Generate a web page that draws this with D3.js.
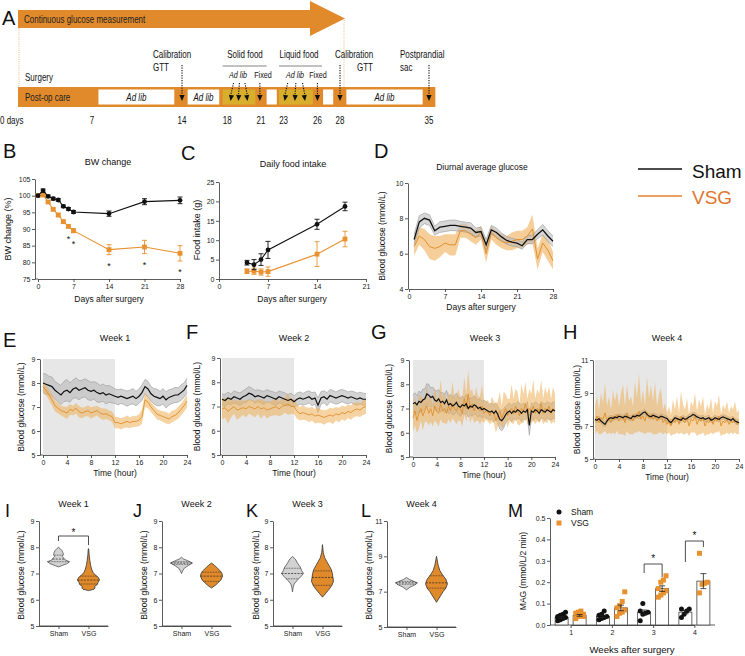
<!DOCTYPE html>
<html><head><meta charset="utf-8">
<script src="https://cdn.jsdelivr.net/npm/d3@7"></script>
<style>body{margin:0;background:#fff}svg{display:block}</style>
</head><body>
<svg id="c" width="745" height="656"></svg>
<script>
// ---------------- DATA ----------------
// Panel A timeline (days)
const tlTicks = [0,7,14,18,21,23,26,28,35];
const whiteBoxes = [[7.5,13.4],[14.5,17.3],[21.5,22.4],[26.5,27.4],[28.5,34.5]];
const goldBoxes = [[17.6,20.5],[22.6,25.6]];
const calibDays = [14,28,35];
const fixedDays = [20.9,26];
const adlibDays = [18.3,19.0,19.8,23.1,24.0,24.9];

// Panel B body weight
const bwDays = [0,1,2,3,4,5,6,7,14,21,28];
const shamBW = [100,101.5,99.8,99.1,98.7,96.8,96.0,95.1,94.6,98.2,98.6];
const shamBWse = [0,0.5,0.4,0.4,0.4,0.4,0.4,0.4,0.8,0.9,1.0];
const vsgBW = [100,100.2,98.1,95.9,94.2,92.2,90.8,89.5,83.8,84.6,82.7];
const vsgBWse = [0,0.4,0.4,0.4,0.5,0.5,0.5,0.6,1.5,2.0,2.3];
const bwStarDays = [6,7,14,21,28];

// Panel C food intake
const fiDays = [4,5,6,7,14,18];
const shamFI = [4.2,3.7,5.0,7.5,14.1,18.7];
const shamFIse = [0.6,1.3,1.5,2.2,1.3,1.1];
const vsgFI = [2.0,2.0,1.8,1.9,6.4,10.3];
const vsgFIse = [0.6,0.8,0.8,1.2,3.2,2.0];

// Panel D diurnal average glucose, days 1..28
const shamD = [6.8,7.8,8.0,7.9,7.3,7.5,7.55,7.6,7.6,7.55,7.5,7.45,7.2,7.25,6.5,7.35,7.2,6.95,6.75,6.65,6.6,6.45,6.8,6.8,7.1,7.35,7.0,6.7];
const shamDse = [0.3,0.35,0.3,0.3,0.25,0.3,0.3,0.3,0.3,0.28,0.28,0.3,0.25,0.25,0.3,0.25,0.25,0.22,0.22,0.22,0.2,0.2,0.22,0.25,0.25,0.3,0.3,0.3];
const vsgD = [6.4,7.0,6.8,6.4,6.3,6.4,6.6,6.5,6.5,7.3,7.3,7.1,6.9,7.2,6.0,7.2,6.9,6.7,6.6,6.7,6.8,6.8,7.0,7.4,5.7,6.6,6.2,5.6];
const vsgDse = [0.5,0.5,0.6,0.7,0.7,0.6,0.5,0.6,0.6,0.4,0.4,0.4,0.4,0.4,0.5,0.4,0.4,0.4,0.4,0.5,0.5,0.5,0.5,0.8,0.6,0.5,0.6,0.5];

// Panels E-H: 24 h profiles (evenly spaced over 0-24 h)
const shamE = [8.0,7.95,7.9,7.85,7.7,7.6,7.5,7.65,7.7,7.6,7.75,7.8,7.7,7.75,7.8,7.7,7.65,7.7,7.6,7.55,7.6,7.5,7.55,7.5,7.45,7.4,7.45,7.4,7.35,7.4,7.45,7.35,7.45,7.6,7.85,7.75,7.55,7.45,7.4,7.35,7.45,7.3,7.4,7.45,7.5,7.5,7.6,7.7,7.9];
const shamEse = [0.4,0.42,0.38,0.4,0.36,0.38,0.4,0.42,0.45,0.4,0.38,0.42,0.4,0.36,0.38,0.4,0.38,0.36,0.4,0.35,0.36,0.38,0.35,0.33,0.3,0.32,0.3,0.3,0.32,0.3,0.32,0.3,0.3,0.32,0.3,0.32,0.3,0.32,0.35,0.3,0.32,0.34,0.32,0.3,0.32,0.3,0.32,0.3,0.3];
const vsgE = [7.85,7.7,7.5,7.3,7.05,6.95,6.85,6.8,6.75,6.9,6.85,6.95,6.8,6.75,6.8,6.85,6.75,6.8,6.85,6.75,6.7,6.72,6.65,6.6,6.35,6.35,6.3,6.35,6.4,6.35,6.4,6.4,6.45,6.6,7.3,7.2,7.0,6.85,6.7,6.65,6.6,6.55,6.5,6.6,6.65,6.75,6.9,7.05,7.25];
const vsgEse = [0.22,0.2,0.22,0.25,0.24,0.22,0.2,0.22,0.25,0.22,0.2,0.22,0.24,0.22,0.2,0.22,0.24,0.22,0.2,0.22,0.24,0.22,0.2,0.22,0.25,0.22,0.24,0.22,0.25,0.22,0.24,0.22,0.25,0.3,0.3,0.25,0.22,0.2,0.22,0.2,0.22,0.24,0.22,0.24,0.22,0.25,0.25,0.25,0.28];

const shamF = [7.3,7.25,7.35,7.3,7.4,7.35,7.3,7.4,7.45,7.55,7.5,7.4,7.45,7.4,7.35,7.45,7.4,7.35,7.3,7.4,7.35,7.3,7.25,7.3,7.2,7.3,7.35,7.3,7.35,7.4,7.3,7.35,7.05,7.35,7.4,7.3,7.45,7.4,7.35,7.4,7.45,7.4,7.35,7.4,7.35,7.3,7.35,7.3,7.3];
const shamFse = [0.22,0.25,0.24,0.22,0.25,0.24,0.26,0.25,0.28,0.27,0.25,0.26,0.24,0.25,0.27,0.25,0.24,0.26,0.25,0.24,0.25,0.26,0.24,0.25,0.24,0.26,0.25,0.24,0.26,0.25,0.27,0.25,0.3,0.26,0.25,0.27,0.25,0.26,0.25,0.27,0.25,0.26,0.25,0.24,0.26,0.25,0.24,0.25,0.24];
const vsgF = [6.9,6.95,6.8,6.9,7.0,6.85,6.9,6.95,6.9,7.0,6.95,6.9,7.0,6.9,6.95,6.85,6.9,6.95,7.0,6.9,7.0,7.05,7.1,7.0,7.0,6.8,6.7,6.75,6.7,6.65,6.7,6.6,6.65,6.6,6.55,6.6,6.65,6.6,6.7,6.65,6.75,6.7,6.8,6.75,6.85,6.9,6.85,6.95,7.0];
const vsgFse = [0.45,0.4,0.5,0.35,0.3,0.4,0.35,0.3,0.35,0.3,0.32,0.35,0.3,0.4,0.3,0.35,0.3,0.32,0.35,0.3,0.35,0.3,0.45,0.3,0.32,0.3,0.28,0.3,0.27,0.3,0.28,0.3,0.32,0.28,0.3,0.27,0.3,0.32,0.28,0.3,0.28,0.3,0.27,0.3,0.28,0.3,0.28,0.3,0.3];

const shamG = [7.2,7.25,7.15,7.3,7.25,7.35,7.4,7.6,7.55,7.45,7.5,7.35,7.3,7.4,7.25,7.3,7.2,7.35,7.15,7.2,7.1,7.15,7.25,7.1,7.05,7.15,7.1,7.2,7.0,7.1,7.05,7.15,7.1,7.0,7.05,6.95,7.0,6.95,6.9,6.85,6.9,6.8,6.9,6.75,6.55,6.5,6.6,6.75,6.85,6.9,6.8,6.9,6.85,6.95,6.9,6.8,6.9,6.85,6.95,6.3,6.9,6.85,6.95,6.9,6.8,6.95,6.9,6.85,6.95,6.9,6.85,6.95,6.9];
const shamGse = [0.35,0.4,0.38,0.42,0.4,0.45,0.4,0.42,0.45,0.4,0.38,0.4,0.42,0.38,0.4,0.36,0.38,0.4,0.35,0.38,0.36,0.4,0.38,0.35,0.38,0.36,0.35,0.38,0.35,0.36,0.35,0.38,0.35,0.36,0.34,0.35,0.33,0.35,0.32,0.34,0.32,0.35,0.33,0.35,0.4,0.42,0.4,0.35,0.33,0.32,0.34,0.32,0.33,0.35,0.32,0.34,0.33,0.32,0.34,0.4,0.32,0.34,0.33,0.32,0.34,0.33,0.32,0.34,0.33,0.35,0.33,0.34,0.33];
const vsgG = [6.6,6.9,6.5,6.8,7.0,6.7,6.9,7.1,6.8,7.0,6.7,7.1,6.9,6.8,7.2,6.9,7.0,6.8,7.1,6.9,7.2,7.0,6.9,7.1,7.0,6.8,7.4,7.0,7.6,7.0,7.2,6.9,7.1,7.0,6.9,7.1,6.8,6.9,6.85,6.7,6.9,6.8,6.5,6.7,6.9,6.6,6.8,7.0,6.7,6.9,7.0,6.8,7.1,6.9,6.7,7.0,6.9,7.2,6.8,7.0,6.9,7.1,6.8,7.0,6.9,7.2,6.8,7.0,6.9,7.1,6.8,7.0,6.9];
const vsgGseHi = [0.4,0.6,0.5,0.8,0.5,0.7,0.4,0.9,0.5,0.6,0.4,0.8,0.5,0.6,1.0,0.5,0.7,0.4,0.6,0.5,0.9,0.5,0.6,0.7,0.5,0.6,0.9,0.6,1.0,0.7,0.6,0.5,0.8,0.5,0.6,0.9,0.5,0.4,0.5,0.4,0.6,0.5,0.7,0.6,0.8,0.5,0.9,0.6,0.7,0.5,1.0,0.6,0.7,0.8,0.5,1.0,0.7,0.9,0.6,0.8,0.7,1.1,0.6,0.8,0.7,1.0,0.6,0.9,0.7,0.8,0.6,0.9,0.7];
const vsgGseLo = [0.55,0.6,0.5,0.65,0.5,0.6,0.45,0.65,0.5,0.55,0.45,0.6,0.5,0.55,0.65,0.5,0.6,0.45,0.55,0.5,0.6,0.5,0.55,0.6,0.5,0.55,0.65,0.55,0.7,0.6,0.55,0.5,0.6,0.5,0.55,0.6,0.4,0.35,0.4,0.35,0.45,0.4,0.5,0.45,0.55,0.4,0.55,0.45,0.5,0.4,0.6,0.45,0.5,0.55,0.4,0.6,0.5,0.55,0.45,0.5,0.5,0.6,0.45,0.5,0.5,0.6,0.45,0.55,0.5,0.5,0.45,0.55,0.5];

const shamH = [7.4,7.35,7.45,7.3,7.2,7.1,7.3,7.45,7.5,7.45,7.55,7.5,7.6,7.55,7.5,7.6,7.55,7.5,7.45,7.6,7.55,7.65,7.6,7.7,7.8,7.85,7.7,7.6,7.55,7.65,7.6,7.55,7.5,7.6,7.55,7.5,7.45,7.3,7.2,7.35,7.5,7.45,7.4,7.35,7.5,7.4,7.45,7.55,7.6,7.7,7.65,7.55,7.5,7.45,7.5,7.4,7.45,7.5,7.35,7.4,7.5,7.45,7.4,7.5,7.55,7.5,7.45,7.4,7.35,7.45,7.3,7.25,7.2];
const shamHse = [0.15,0.14,0.16,0.15,0.17,0.15,0.14,0.16,0.15,0.14,0.16,0.15,0.14,0.16,0.15,0.17,0.15,0.14,0.16,0.15,0.14,0.16,0.15,0.17,0.16,0.15,0.14,0.16,0.15,0.14,0.16,0.15,0.14,0.16,0.15,0.14,0.16,0.17,0.16,0.15,0.14,0.16,0.15,0.14,0.16,0.15,0.14,0.16,0.15,0.14,0.16,0.15,0.14,0.16,0.15,0.14,0.16,0.15,0.14,0.16,0.15,0.14,0.16,0.15,0.14,0.16,0.15,0.14,0.16,0.15,0.16,0.15,0.16];
const vsgH = [7.3,7.6,7.2,7.5,7.4,7.8,7.3,7.5,7.2,7.6,7.4,7.7,7.3,7.5,7.6,7.2,7.8,7.4,7.5,7.3,7.7,7.5,7.9,7.4,7.6,7.3,7.8,7.5,7.7,7.4,7.6,7.3,7.5,7.6,7.2,7.4,7.1,7.3,7.0,7.4,7.2,7.5,7.1,7.6,7.3,7.2,7.5,7.0,7.4,7.3,7.6,7.1,7.4,7.3,7.5,7.0,7.3,7.2,7.5,7.1,7.4,7.3,7.6,7.0,7.3,7.2,7.4,7.1,7.3,7.2,7.4,7.1,7.2];
const vsgHseHi = [0.9,1.2,0.8,1.5,1.0,1.8,0.9,1.3,0.8,1.6,1.1,1.4,0.9,1.5,1.9,1.0,1.7,1.1,1.3,0.9,2.0,1.2,2.3,1.0,1.6,0.9,2.2,1.2,1.8,1.1,2.1,0.9,1.4,1.7,0.8,1.0,0.7,0.9,0.7,1.2,0.8,1.3,0.7,1.5,1.0,0.8,1.2,0.7,1.1,0.9,1.4,0.8,1.2,0.9,1.3,0.7,1.0,0.8,1.2,0.7,1.1,0.9,1.3,0.7,1.0,0.8,1.1,0.7,0.9,0.8,1.1,0.7,0.8];
const vsgHseLo = [0.8,0.9,0.7,1.0,0.8,1.1,0.8,0.9,0.7,1.0,0.9,1.0,0.8,1.0,1.1,0.8,1.1,0.9,1.0,0.8,1.1,0.9,1.2,0.8,1.0,0.8,1.2,0.9,1.1,0.9,1.1,0.8,0.9,1.0,0.7,0.8,0.6,0.7,0.6,0.9,0.7,0.9,0.6,1.0,0.8,0.7,0.9,0.6,0.8,0.7,1.0,0.7,0.9,0.8,0.9,0.6,0.8,0.7,0.9,0.6,0.8,0.7,0.9,0.6,0.8,0.7,0.8,0.6,0.7,0.7,0.8,0.6,0.7];

// Panels I-L: violin densities [glucose, relative density] and quartiles
const violSham1 = [[7.25,0],[7.3,0.3],[7.38,0.8],[7.45,1.0],[7.52,0.6],[7.58,0.5],[7.65,0.35],[7.72,0.45],[7.8,0.4],[7.88,0.3],[7.95,0.15],[8.0,0]];
const violVsg1 = [[6.35,0],[6.4,0.5],[6.45,0.6],[6.5,0.55],[6.58,0.8],[6.65,0.85],[6.75,1.0],[6.85,0.9],[6.95,0.6],[7.05,0.4],[7.15,0.3],[7.3,0.2],[7.5,0.12],[7.7,0.06],[7.9,0.03],[7.95,0]];
const violSham2 = [[7.0,0],[7.1,0.1],[7.2,0.25],[7.3,0.6],[7.4,1.0],[7.5,0.5],[7.55,0.2],[7.62,0]];
const violVsg2 = [[6.45,0],[6.55,0.35],[6.65,0.6],[6.75,0.85],[6.9,1.0],[7.0,0.95],[7.1,0.8],[7.2,0.55],[7.3,0.3],[7.4,0]];
const violSham3 = [[6.3,0],[6.45,0.05],[6.6,0.15],[6.75,0.45],[6.9,0.8],[7.0,1.0],[7.1,0.85],[7.25,0.7],[7.4,0.45],[7.55,0.25],[7.65,0]];
const violVsg3 = [[6.1,0],[6.25,0.3],[6.4,0.6],[6.55,0.85],[6.7,1.0],[6.85,0.95],[7.0,0.9],[7.15,0.8],[7.3,0.6],[7.45,0.4],[7.6,0.2],[7.8,0.07],[8.1,0]];
const violSham4 = [[7.1,0],[7.25,0.3],[7.4,0.8],[7.5,1.0],[7.6,0.6],[7.7,0.25],[7.8,0]];
const violVsg4 = [[6.4,0],[6.7,0.3],[7.0,0.6],[7.2,0.85],[7.45,1.0],[7.7,0.85],[7.95,0.55],[8.2,0.3],[8.5,0.15],[9.0,0]];
const qSham = [[7.45,7.55,7.7],[7.35,7.4,7.45],[6.8,7.0,7.2],[7.42,7.5,7.58]];
const qVsg = [[6.6,6.75,6.9],[6.7,6.9,7.05],[6.55,6.85,7.1],[7.2,7.5,7.9]];

// Panel M MAG
const magWeeks = ["1","2","3","4"];
const magShamMean = [0.035,0.04,0.06,0.06];
const magShamSe = [0.005,0.005,0.01,0.008];
const magVsgMean = [0.045,0.08,0.17,0.205];
const magVsgSe = [0.004,0.013,0.013,0.035];
const magShamPts = [[0.02,0.025,0.03,0.035,0.04,0.045,0.05,0.06,0.035],[0.025,0.03,0.035,0.04,0.045,0.05,0.065],[0.02,0.05,0.055,0.06,0.065,0.1],[0.035,0.05,0.065,0.075,0.075]];
const magVsgPts = [[0.03,0.04,0.045,0.05,0.055,0.06,0.065,0.04],[0.04,0.055,0.06,0.07,0.08,0.09,0.11,0.155],[0.13,0.14,0.15,0.16,0.17,0.2,0.21,0.23],[0.15,0.19,0.195,0.2,0.335]];

// ---------------- DRAWING ----------------
const svg = d3.select("#c");
const FONT = '"Liberation Sans", Arial, Helvetica, sans-serif';
const ORANGE = "#E08A2B", GOLD = "#D8AE2C", VSGC = "#E8912E", AX = "#333";
const BANDO = "#EFAE55", BANDG = "#bcbcbc";

function txt(x,y,s,o={}){
  return svg.append("text").attr("x",x).attr("y",y).text(s)
    .attr("font-family",FONT).attr("font-size",o.fs||9)
    .attr("text-anchor",o.anchor||"start").attr("fill",o.fill||"#111")
    .attr("font-style",o.italic?"italic":null);
}
function ntxt(x,y,s,o={}){
  return svg.append("text").attr("transform",`translate(${x},${y}) scale(0.8,1)`).text(s)
    .attr("font-family",FONT).attr("font-size",o.fs||10)
    .attr("text-anchor",o.anchor||"start").attr("fill",o.fill||"#111")
    .attr("font-style",o.italic?"italic":null);
}
function vtxt(x,y,s,fs){
  return svg.append("text").attr("transform",`translate(${x},${y}) rotate(-90)`).text(s)
    .attr("font-family",FONT).attr("font-size",fs||8.5).attr("text-anchor","middle").attr("fill","#111");
}
function styleAxis(g,fs){
  g.attr("font-family",FONT);
  g.select(".domain").attr("stroke",AX).attr("stroke-width",0.8);
  g.selectAll(".tick line").attr("stroke",AX).attr("stroke-width",0.8);
  g.selectAll(".tick text").attr("font-size",fs||7).attr("fill","#222");
}
function yAxis(scale,x,ticks,fmt,fs){
  const a=d3.axisLeft(scale).tickValues(ticks).tickSize(3).tickSizeOuter(0).tickPadding(1.5)
    .tickFormat(fmt||d3.format("d"));
  const g=svg.append("g").attr("transform",`translate(${x},0)`).call(a); styleAxis(g,fs); return g;
}
function xAxis(scale,y,ticks,fmt,fs,startX){
  const a=d3.axisBottom(scale).tickValues(ticks).tickSize(3).tickSizeOuter(0).tickPadding(2);
  if(fmt) a.tickFormat(fmt);
  const g=svg.append("g").attr("transform",`translate(0,${y})`).call(a); styleAxis(g,fs);
  if(startX!==undefined){
    svg.append("line").attr("x1",startX).attr("x2",scale.range()[0]).attr("y1",y).attr("y2",y)
      .attr("stroke",AX).attr("stroke-width",0.8);
  }
  return g;
}
function letter(x,y,s,fs){ txt(x,y,s,{fs:fs||20,fill:"#111"}); }

// ===== Panel A =====
letter(2,25,"A",20);
const tl = d3.scaleLinear().domain([0,7,14,28,35]).range([18,92,182,340,429]);
svg.append("path").attr("d",`M${tl(0)},10 L310,10 L310,1 L345,18.5 L310,36 L310,28 L${tl(0)},28 Z`).attr("fill",ORANGE);
ntxt(24,23,"Continuous glucose measurement",{fs:10,fill:"#222"});
[[tl(0)+1,28],[344,20]].forEach(([x,y0])=>{
  svg.append("line").attr("x1",x).attr("x2",x).attr("y1",y0).attr("y2",87)
    .attr("stroke",ORANGE).attr("stroke-width",0.6).attr("stroke-dasharray","1,1.2");
});
svg.append("rect").attr("x",tl(0)).attr("y",87).attr("width",tl(35.5)-tl(0)).attr("height",20).attr("fill",ORANGE);
whiteBoxes.forEach(b=>svg.append("rect").attr("x",tl(b[0])).attr("y",89.5).attr("width",tl(b[1])-tl(b[0])).attr("height",15).attr("fill","#fff"));
goldBoxes.forEach(b=>svg.append("rect").attr("x",tl(b[0])).attr("y",89.5).attr("width",tl(b[1])-tl(b[0])).attr("height",15).attr("fill",GOLD));
[0,1,4].forEach(i=>{const b=whiteBoxes[i]; ntxt((tl(b[0])+tl(b[1]))/2,101,"Ad lib",{fs:10,anchor:"middle",italic:true});});
ntxt(25,101,"Post-op care",{fs:10,fill:"#222"});
ntxt(25,81,"Surgery",{fs:10});
function dotArrow(xTop,yTop,xBot,yBot){
  svg.append("line").attr("x1",xTop).attr("y1",yTop).attr("x2",xBot).attr("y2",yBot-5)
    .attr("stroke","#111").attr("stroke-width",1.1).attr("stroke-dasharray","1.2,1.3");
  const dx=(xBot-xTop), dy=(yBot-yTop), L=Math.hypot(dx,dy), ux=dx/L, uy=dy/L;
  const bx=xBot-ux*6, by=yBot-uy*6;
  svg.append("path").attr("d",`M${xBot},${yBot} L${bx-uy*2.6},${by+ux*2.6} L${bx+uy*2.6},${by-ux*2.6} Z`).attr("fill","#111");
}
calibDays.forEach(d=>dotArrow(tl(d),65,tl(d),101));
fixedDays.forEach(d=>dotArrow(tl(d),83,tl(d),101));
const slant=[3,1,-2.5];
adlibDays.forEach((d,i)=>dotArrow(tl(d)+slant[i%3],83,tl(d),101));
ntxt(153,58,"Calibration"); ntxt(153,71,"GTT");
ntxt(245,58,"Solid food",{anchor:"middle"});
ntxt(299,58,"Liquid food",{anchor:"middle"});
svg.append("line").attr("x1",tl(17.6)).attr("x2",tl(21.5)).attr("y1",66).attr("y2",66).attr("stroke","#777").attr("stroke-width",0.9);
svg.append("line").attr("x1",tl(22.6)).attr("x2",tl(26.4)).attr("y1",66).attr("y2",66).attr("stroke","#777").attr("stroke-width",0.9);
ntxt(238,78,"Ad lib",{fs:9,anchor:"middle",italic:true});
ntxt(263,78,"Fixed",{fs:9,anchor:"middle"});
ntxt(295,78,"Ad lib",{fs:9,anchor:"middle",italic:true});
ntxt(318,78,"Fixed",{fs:9,anchor:"middle"});
ntxt(335,58,"Calibration"); ntxt(365,71,"GTT",{anchor:"middle"});
ntxt(400,58,"Postprandial"); ntxt(400,71,"sac");
tlTicks.forEach(d=>{
  if(d===0) ntxt(0,124,"0 days",{fs:10});
  else ntxt(tl(d),124,String(d),{fs:10,anchor:"middle"});
});

function errLine(xs,ys,xv,mean,se,color,shape){
  svg.append("path").datum(xv.map((d,i)=>[d,mean[i]]))
    .attr("d",d3.line().x(d=>xs(d[0])).y(d=>ys(d[1])))
    .attr("fill","none").attr("stroke",color).attr("stroke-width",1.1);
  xv.forEach((d,i)=>{
    if(se[i]>0){
      const x=xs(d), y1=ys(mean[i]-se[i]), y2=ys(mean[i]+se[i]);
      svg.append("line").attr("x1",x).attr("x2",x).attr("y1",y1).attr("y2",y2).attr("stroke",color).attr("stroke-width",0.9);
      [y1,y2].forEach(yy=>svg.append("line").attr("x1",x-2.5).attr("x2",x+2.5).attr("y1",yy).attr("y2",yy).attr("stroke",color).attr("stroke-width",0.9));
    }
    if(shape==="c") svg.append("circle").attr("cx",xs(d)).attr("cy",ys(mean[i])).attr("r",2.4).attr("fill",color);
    else svg.append("rect").attr("x",xs(d)-2.4).attr("y",ys(mean[i])-2.4).attr("width",4.8).attr("height",4.8).attr("fill",color);
  });
}

// ===== Panel B =====
letter(3,158,"B");
txt(108,165,"BW change",{fs:9,anchor:"middle"});
const xB=d3.scaleLinear([0,28],[38,180]), yB=d3.scaleLinear([75,105],[279,179]);
yAxis(yB,35,[75,80,85,90,95,100,105]);
xAxis(xB,279,[0,7,14,21,28],null,7,35);
vtxt(11,229,"BW change (%)",9);
txt(109,302,"Days after surgery",{fs:8.5,anchor:"middle"});
errLine(xB,yB,bwDays,vsgBW,vsgBWse,VSGC,"s");
errLine(xB,yB,bwDays,shamBW,shamBWse,"#111","c");
bwStarDays.forEach(d=>{const i=bwDays.indexOf(d); txt(xB(d),yB(vsgBW[i]-vsgBWse[i])+14,"*",{fs:9,anchor:"middle"});});

// ===== Panel C =====
letter(181,160,"C");
txt(293,167,"Daily food intake",{fs:9,anchor:"middle"});
const xC=d3.scaleLinear([0,21],[219,366]), yC=d3.scaleLinear([0,25],[279,182]);
yAxis(yC,219,[0,5,10,15,20,25]);
xAxis(xC,279,[0,7,14,21]);
vtxt(200,230,"Food intake (g)",9);
txt(292,302,"Days after surgery",{fs:8.5,anchor:"middle"});
errLine(xC,yC,fiDays,vsgFI,vsgFIse,VSGC,"s");
errLine(xC,yC,fiDays,shamFI,shamFIse,"#111","c");

// band plot helper (seLo optional for asymmetric bands)
function bandPlot(xs,ys,mean,se,xOf,bandFill,bandOp,lineColor,lw,edge,seLo){
  const lo=seLo||se;
  const pts=mean.map((m,i)=>({x:xOf(i),m,hi:se[i],lo:lo[i]}));
  svg.append("path").datum(pts).attr("d",d3.area().x(d=>xs(d.x)).y0(d=>ys(d.m-d.lo)).y1(d=>ys(d.m+d.hi)))
    .attr("fill",bandFill).attr("fill-opacity",bandOp);
  if(edge){
    [1,-1].forEach(k=>svg.append("path").datum(pts).attr("d",d3.line().x(d=>xs(d.x)).y(d=>ys(k>0?d.m+d.hi:d.m-d.lo)))
      .attr("fill","none").attr("stroke",edge).attr("stroke-width",0.6));
  }
  return ()=>svg.append("path").datum(pts).attr("d",d3.line().x(d=>xs(d.x)).y(d=>ys(d.m)))
    .attr("fill","none").attr("stroke",lineColor).attr("stroke-width",lw);
}

// ===== Panel D =====
letter(374,158,"D");
txt(482,170,"Diurnal average glucose",{fs:8.5,anchor:"middle"});
const xD=d3.scaleLinear([0,28],[409,553]), yD=d3.scaleLinear([4,10],[289,183]);
yAxis(yD,408,[4,6,8,10]);
xAxis(xD,289,[0,7,14,21,28]);
vtxt(385,236,"Blood glucose (mmol/L)",8.5);
txt(481,310,"Days after surgery",{fs:8.5,anchor:"middle"});
{
  const l1=bandPlot(xD,yD,vsgD,vsgDse,i=>i+1,BANDO,0.6,"#E0902E",1,null);
  const l2=bandPlot(xD,yD,shamD,shamDse,i=>i+1,BANDG,0.6,"#111",1.3,"#999");
  l1(); l2();
}
svg.append("line").attr("x1",638).attr("x2",682).attr("y1",169).attr("y2",169).attr("stroke","#111").attr("stroke-width",1.5);
txt(692,178,"Sham",{fs:19,fill:"#111"});
svg.append("line").attr("x1",638).attr("x2",682).attr("y1",196).attr("y2",196).attr("stroke","#E8812E").attr("stroke-width",1.5);
txt(692,204,"VSG",{fs:19,fill:"#E0762E"});

// ===== Panels E-H =====
function dayPanel(cfg){
  letter(cfg.lx,cfg.ly,cfg.L);
  txt(cfg.xr[0]+72,cfg.ty,cfg.title,{fs:9,anchor:"middle"});
  const xs=d3.scaleLinear([0,24],cfg.xr), ys=d3.scaleLinear(cfg.yd,cfg.yr);
  svg.append("rect").attr("x",xs(0)).attr("y",ys(cfg.yd[1])).attr("width",xs(12)-xs(0)).attr("height",ys(cfg.yd[0])-ys(cfg.yd[1])).attr("fill","#e7e7e7");
  yAxis(ys,cfg.ax,cfg.yt);
  xAxis(xs,cfg.yr[0],[0,4,8,12,16,20,24],null,7,cfg.ax);
  vtxt(cfg.lbx,(cfg.yr[0]+cfg.yr[1])/2,"Blood glucose (mmol/L)",8.5);
  txt((cfg.xr[0]+cfg.xr[1])/2,cfg.yr[0]+21,"Time (hour)",{fs:8.5,anchor:"middle"});
  const n1=cfg.sham.length, n2=cfg.vsg.length;
  const ls=bandPlot(xs,ys,cfg.sham,cfg.shamSe,i=>i*24/(n1-1),BANDG,0.65,"#111",1.2,"#9a9a9a");
  const lv=bandPlot(xs,ys,cfg.vsg,cfg.vsgSe,i=>i*24/(n2-1),BANDO,0.55,"#E0902E",0.9,null,cfg.vsgSeLo);
  lv(); ls();
}
dayPanel({L:"E",lx:3,ly:347,title:"Week 1",ty:341,xr:[43,187],yd:[5,9],yr:[455,359],ax:40,yt:[5,6,7,8,9],lbx:24,sham:shamE,shamSe:shamEse,vsg:vsgE,vsgSe:vsgEse});
dayPanel({L:"F",lx:186,ly:339,title:"Week 2",ty:341,xr:[222,366],yd:[5,9],yr:[455,358],ax:220,yt:[5,6,7,8,9],lbx:200,sham:shamF,shamSe:shamFse,vsg:vsgF,vsgSe:vsgFse});
dayPanel({L:"G",lx:371,ly:339,title:"Week 3",ty:341,xr:[413,555],yd:[5,9],yr:[457,360],ax:409,yt:[5,6,7,8,9],lbx:392,sham:shamG,shamSe:shamGse,vsg:vsgG,vsgSe:vsgGseHi,vsgSeLo:vsgGseLo});
dayPanel({L:"H",lx:563,ly:339,title:"Week 4",ty:341,xr:[595,739],yd:[5,11],yr:[459,360],ax:593,yt:[5,7,9,11],lbx:580,sham:shamH,shamSe:shamHse,vsg:vsgH,vsgSe:vsgHseHi,vsgSeLo:vsgHseLo});

// ===== Panels I-L (violins) =====
function densAt(dens,v){
  for(let j=0;j<dens.length-1;j++){
    const a=dens[j], b=dens[j+1];
    if(v>=a[0]&&v<=b[0]) return a[1]+(b[1]-a[1])*(v-a[0])/(b[0]-a[0]);
  }
  return 0;
}
function violin(cx,ys,dens,q,fill,stroke){
  const W=11;
  svg.append("path").datum(dens).attr("d",d3.area().y(d=>ys(d[0])).x0(d=>cx-d[1]*W).x1(d=>cx+d[1]*W))
    .attr("fill",fill).attr("stroke",stroke).attr("stroke-width",0.8);
  q.forEach((v,k)=>{
    const w=densAt(dens,v)*W;
    svg.append("line").attr("x1",cx-w).attr("x2",cx+w).attr("y1",ys(v)).attr("y2",ys(v))
      .attr("stroke","#222").attr("stroke-width",0.7).attr("stroke-dasharray",k===1?"2,1.2":"0.8,0.8");
  });
}
const violData=[[violSham1,violVsg1],[violSham2,violVsg2],[violSham3,violVsg3],[violSham4,violVsg4]];
const violCfg=[
  {L:"I",lx:5,ax:39,lbx:24,yd:[5,9],yr:[626,521],yt:[5,6,7,8,9]},
  {L:"J",lx:133,ax:162,lbx:147,yd:[5,9],yr:[626,521],yt:[5,6,7,8,9]},
  {L:"K",lx:246,ax:273,lbx:259,yd:[5,9],yr:[626,521],yt:[5,6,7,8,9]},
  {L:"L",lx:361,ax:387,lbx:372,yd:[5,11],yr:[627,521],yt:[5,7,9,11]}
];
violCfg.forEach((c,k)=>{
  letter(c.lx,517,c.L,18);
  const ys=d3.scaleLinear(c.yd,c.yr);
  const xs=d3.scalePoint(["Sham","VSG"],[c.ax,c.ax+69]).padding(0.65);
  txt(c.ax+34.5,507,"Week "+(k+1),{fs:9,anchor:"middle"});
  yAxis(ys,c.ax,c.yt);
  xAxis(xs,c.yr[0],["Sham","VSG"],null,7);
  svg.append("line").attr("x1",c.ax).attr("x2",c.ax+69).attr("y1",c.yr[0]).attr("y2",c.yr[0]).attr("stroke",AX).attr("stroke-width",0.8);
  vtxt(c.lbx,575,"Blood glucose (mmol/L)",8.5);
  violin(xs("Sham"),ys,violData[k][0],qSham[k],"#d2d2d2","#555");
  violin(xs("VSG"),ys,violData[k][1],qVsg[k],ORANGE,"#333");
  if(k===0){
    const x1=xs("Sham"), x2=xs("VSG"), yb=536;
    svg.append("path").attr("d",`M${x1},${yb+5} L${x1},${yb} L${x2},${yb} L${x2},${yb+9}`).attr("fill","none").attr("stroke","#222").attr("stroke-width",0.8);
    txt((x1+x2)/2,536,"*",{fs:10,anchor:"middle"});
  }
});

// ===== Panel M =====
letter(508,517,"M",18);
const xM=d3.scaleBand(magWeeks,[550,715]);
const yM=d3.scaleLinear([0,0.5],[625,518]);
yAxis(yM,550,[0,0.1,0.2,0.3,0.4,0.5],d3.format(".1f"));
xAxis(d3.scalePoint(magWeeks,[xM("1")+xM.bandwidth()/2,xM("4")+xM.bandwidth()/2]),625,magWeeks,null,7);
svg.append("line").attr("x1",550).attr("x2",715).attr("y1",625).attr("y2",625).attr("stroke",AX).attr("stroke-width",0.8);
vtxt(526,571,"MAG (mmol/L/2 min)",8.5);
txt(632,653,"Weeks after surgery",{fs:9.5,anchor:"middle"});
const BW=13, OFF=9;
magWeeks.forEach((w,i)=>{
  const c=xM(w)+xM.bandwidth()/2;
  [[c-OFF,magShamMean[i],magShamSe[i],magShamPts[i],"c"],[c+OFF,magVsgMean[i],magVsgSe[i],magVsgPts[i],"s"]].forEach(([cx,m,s,pts,sh])=>{
    svg.append("rect").attr("x",cx-BW/2).attr("y",yM(m)).attr("width",BW).attr("height",yM(0)-yM(m)).attr("fill","#fff").attr("stroke","#444").attr("stroke-width",0.8);
    pts.forEach((v,j)=>{
      const dx=((j%4)-1.5)*2.6;
      if(sh==="c") svg.append("circle").attr("cx",cx+dx).attr("cy",yM(v)).attr("r",2.5).attr("fill","#111");
      else svg.append("rect").attr("x",cx+dx-2.5).attr("y",yM(v)-2.5).attr("width",5).attr("height",5).attr("fill",VSGC);
    });
    svg.append("line").attr("x1",cx).attr("x2",cx).attr("y1",yM(m-s)).attr("y2",yM(m+s)).attr("stroke","#222").attr("stroke-width",0.8);
    [m-s,m+s].forEach(v=>svg.append("line").attr("x1",cx-3).attr("x2",cx+3).attr("y1",yM(v)).attr("y2",yM(v)).attr("stroke","#222").attr("stroke-width",0.8));
  });
});
[[2,564,573,577],[3,541,562,547]].forEach(([i,yb,yl,yr])=>{
  const c=xM(magWeeks[i])+xM.bandwidth()/2, x1=c-OFF, x2=c+OFF;
  svg.append("path").attr("d",`M${x1},${yl} L${x1},${yb} L${x2},${yb} L${x2},${yr}`).attr("fill","none").attr("stroke","#222").attr("stroke-width",0.8);
  txt(c,yb-2,"*",{fs:10,anchor:"middle"});
});
svg.append("circle").attr("cx",559).attr("cy",512).attr("r",2.5).attr("fill","#111");
txt(571,515,"Sham",{fs:8.5});
svg.append("rect").attr("x",556.5).attr("y",520.5).attr("width",5).attr("height",5).attr("fill",VSGC);
txt(571,526,"VSG",{fs:8.5});
</script>
</body></html>
